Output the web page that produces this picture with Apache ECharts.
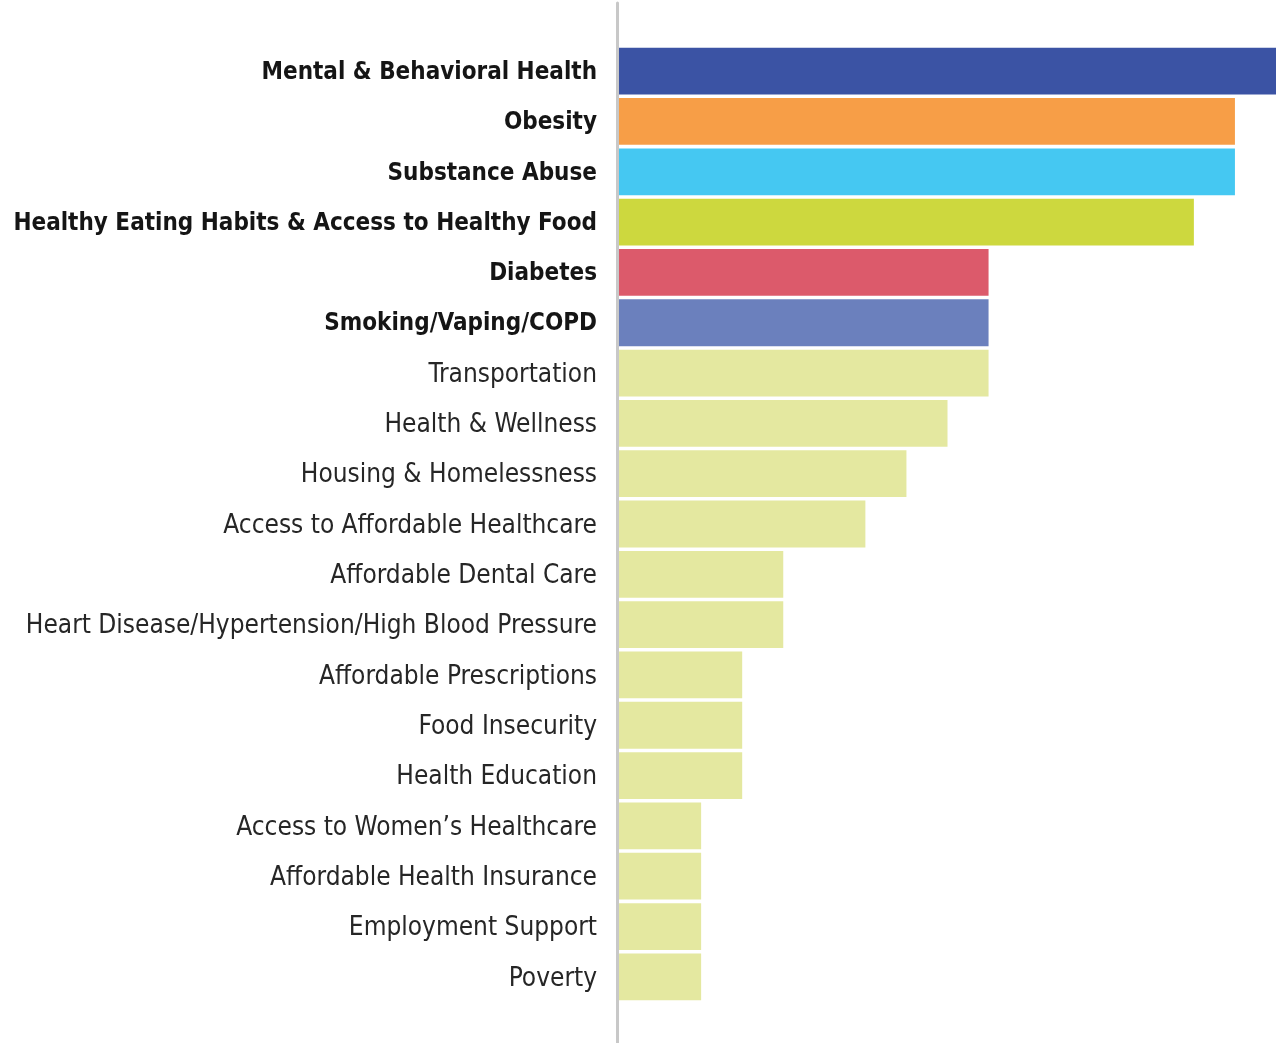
<!DOCTYPE html>
<html>
<head>
<meta charset="utf-8">
<script src="https://cdn.jsdelivr.net/npm/echarts@6/dist/echarts.min.js"></script>
<style>
  html, body { margin: 0; padding: 0; background: #fff; }
  #chart { width: 1286px; height: 1043px; }
</style>
</head>
<body>
<div id="chart"></div>
<script>
// Community health needs, ranked by number of mentions
const categories = [
  'Mental & Behavioral Health',
  'Obesity',
  'Substance Abuse',
  'Healthy Eating Habits & Access to Healthy Food',
  'Diabetes',
  'Smoking/Vaping/COPD',
  'Transportation',
  'Health & Wellness',
  'Housing & Homelessness',
  'Access to Affordable Healthcare',
  'Affordable Dental Care',
  'Heart Disease/Hypertension/High Blood Pressure',
  'Affordable Prescriptions',
  'Food Insecurity',
  'Health Education',
  'Access to Women\u2019s Healthcare',
  'Affordable Health Insurance',
  'Employment Support',
  'Poverty'
];
const values = [16, 15, 15, 14, 9, 9, 9, 8, 7, 6, 4, 4, 3, 3, 3, 2, 2, 2, 2];
// The top six needs get their own colour and a bold label
const topColors = ['#3B53A4', '#F79E47', '#45C8F2', '#CDD83E', '#DC5A6B', '#6B80BD'];
const otherColor = '#E4E8A0';

const chart = echarts.init(document.getElementById('chart'), null, { renderer: 'canvas' });

const data = values.map((v, i) => ({
  value: v,
  itemStyle: { color: i < topColors.length ? topColors[i] : otherColor }
}));

const labelFont = '"DejaVu Sans Condensed", "Liberation Sans Narrow", Roboto, sans-serif';

chart.setOption({
  animation: false,
  backgroundColor: '#ffffff',
  grid: [
    { left: 619, right: 10, top: 46, bottom: 41, containLabel: false, outerBoundsMode: 'none' },
    // full-height baseline rule
    { left: 617, right: 10, top: 3, bottom: 0, containLabel: false, outerBoundsMode: 'none' }
  ],
  xAxis: [
    { type: 'value', gridIndex: 0, min: 0, max: 16, show: false },
    { type: 'value', gridIndex: 1, min: 0, max: 1, show: false }
  ],
  yAxis: [
    {
      type: 'category',
      gridIndex: 0,
      data: categories,
      inverse: true,
      axisLine: { show: false },
      axisTick: { show: false },
      splitLine: { show: false },
      axisLabel: {
        margin: 22,
        fontFamily: labelFont,
        fontSize: 26,
        color: '#1a1a1a',
        formatter: (val) => {
          const idx = categories.indexOf(val);
          return idx < topColors.length ? '{b|' + val + '}' : '{n|' + val + '}';
        },
        rich: {
          b: { fontFamily: labelFont, fontSize: 24, fontWeight: 'bold', color: '#151515', padding: [3, 0, 0, 0] },
          n: { fontFamily: labelFont, fontSize: 26, fontWeight: 'normal', color: '#262626', padding: [4, 0, 0, 0] }
        }
      }
    },
    {
      type: 'value',
      gridIndex: 1,
      min: 0, max: 1,
      axisLine: { show: true, lineStyle: { color: '#C8C8C8', width: 3 } },
      axisTick: { show: false },
      axisLabel: { show: false },
      splitLine: { show: false }
    }
  ],
  series: [
    {
      type: 'bar',
      xAxisIndex: 0,
      yAxisIndex: 0,
      data: data,
      barCategoryGap: '7%',
      silent: true
    }
  ]
});
</script>
</body>
</html>
